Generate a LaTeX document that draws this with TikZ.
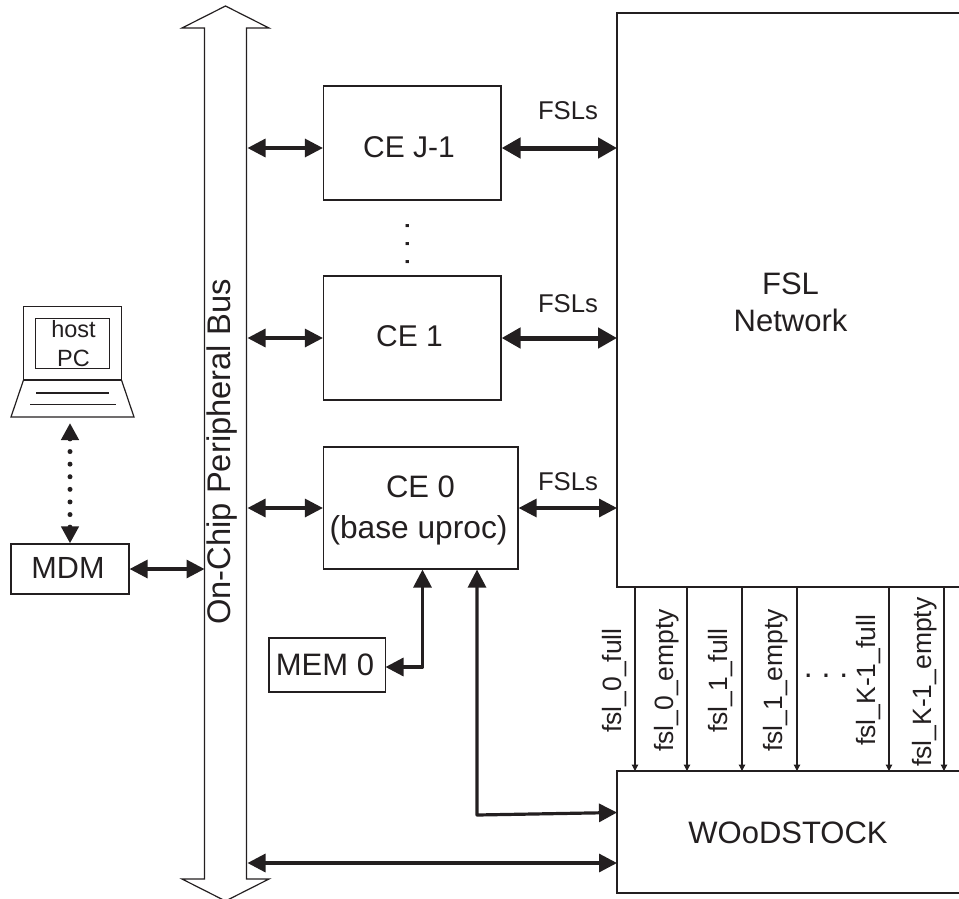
\documentclass[tikz,border=0pt]{standalone}
\usepackage{fontspec}
\setmainfont{Liberation Sans}
\usetikzlibrary{arrows.meta}
\definecolor{ink}{HTML}{231F20}
\newcommand{\fs}[1]{\fontsize{#1}{#1}\selectfont}
\tikzset{
  x=1pt,y=-1pt,
  every path/.style={color=ink},
  every node/.style={text=ink},
  box/.style={draw=ink,line width=1.2pt,inner sep=0pt,minimum width=#1},
  boxh/.style={minimum height=#1},
  lab/.style={inner sep=0pt,font=\fs{#1}},
  thinbi/.style={line width=3.2pt,{Triangle[length=18pt,width=18pt]}-{Triangle[length=18pt,width=18pt]}},
  thickbi/.style={line width=5pt,{Triangle[length=19pt,width=20pt]}-{Triangle[length=19pt,width=20pt]}},
  dotbi/.style={line width=5pt,line cap=round,dash pattern=on 0pt off 12.6pt,{Triangle[length=17pt,width=17pt,line cap=butt]}-{Triangle[length=17pt,width=17pt,line cap=butt]}},
  sig/.style={line width=1.2pt,-{Triangle[length=6.5pt,width=6.5pt]}},
  fsllab/.style={rotate=90,anchor=west,inner sep=0pt,font=\fs{26.5}},
  thin1/.style={draw=ink,line width=1.2pt}
}
\begin{document}
\begin{tikzpicture}
\useasboundingbox (0,0) rectangle (959,898);
% bus
\draw[thin1,line join=miter] (225.5,6) -- (269,28) -- (246.5,28) -- (246.5,879) -- (269,879) -- (225.5,901) -- (182,879) -- (204.5,879) -- (204.5,28) -- (182,28) -- cycle;
\coordinate (busR) at (246.5,0);
\coordinate (busL) at (204.5,0);
\node[rotate=90,lab=32.7] (buslab) at (222,452) {On-Chip Peripheral Bus};
% boxes
\node[box=177.5pt,boxh=114pt] (ceJ) at (412.25,143) {};
\node[box=177.5pt,boxh=124pt] (ce1) at (412.25,338) {};
\node[box=194.5pt,boxh=122pt] (ce0) at (420.75,508) {};
\node[box=116.5pt,boxh=54pt] (mem) at (327.25,665) {};
\node[box=118pt,boxh=50pt] (mdm) at (70,569) {};
\node[lab=30] (ceJt) at (409,147) {CE J-1};
\node[lab=30] (ce1t) at (409.5,336) {CE 1};
\node[lab=31] (ce0t) at (420.5,487) {CE 0};
\node[lab=31.7] (ce0u) at (418.5,530) {(base uproc)};
\node[lab=31] (memt) at (325,665) {MEM 0};
\node[lab=30.6] (mdmt) at (68,568) {MDM};
\path[thin1] (617,13) rectangle (970,587);
\path[thin1] (617,771) rectangle (970,893);
\coordinate (fslW) at (617,148);
\coordinate (woodW) at (617,812.5);
\coordinate (woodB) at (617,863);
\node[lab=31] (fsln) at (790.5,284) {FSL};
\node[lab=31] (fsln2) at (790.5,320) {Network};
\node[lab=31] (wood) at (788,833) {WOoDSTOCK};
% laptop
\draw[thin1] (23.5,380) -- (23.5,306.5) -- (121.5,306.5) -- (121.5,380) -- cycle;
\node[draw=ink,line width=1.2pt,minimum width=73.5pt,minimum height=49.5pt,inner sep=0pt] (screen) at (72.5,343.5) {};
\draw[thin1] (23.5,380) -- (11,417) -- (134,417) -- (121.5,380);
\draw[thin1] (36,393) -- (109,393);
\draw[thin1] (30,404.5) -- (116,404.5);
\coordinate (lapB) at (70,423);
\node[lab=23.5] (host) at (73.5,329) {host};
\node[lab=23.5] (pc) at (73.5,358) {PC};
% connectors
\coordinate (ceJw) at (ceJ.west |- fslW);
\coordinate (ceJe) at (ceJ.east |- fslW);
\coordinate (memE) at (385.5,667);
\coordinate (memK) at (422.5,667);
\coordinate (woodK) at (477,815);
\draw[thinbi] ([xshift=1pt]busR |- ceJw) -- (ceJw);
\draw[thinbi] ([xshift=1pt]busR |- ce1.west) -- (ce1.west);
\draw[thinbi] ([xshift=1pt]busR |- ce0.west) -- (ce0.west);
\draw[thinbi] (mdm.east) -- (busL |- mdm.east);
\draw[thickbi] (ceJe) -- (fslW);
\draw[thickbi] (ce1.east) -- (fslW |- ce1.east);
\draw[thinbi] (ce0.east) -- (fslW |- ce0.east);
\draw[dotbi] (lapB) -- (mdm.north);
\draw[thinbi,line join=round] (memE) -- (memK) -- (memK |- ce0.south);
\draw[thinbi,line join=round] (woodK |- ce0.south) -- (woodK) -- (woodW);
\draw[thinbi] ([xshift=1pt]busR |- woodB) -- (woodB);
% status lines
\foreach \n/\x in {a/635,b/687,c/742,d/797,e/889,f/944}{
  \coordinate (t\n) at (\x,587);
  \coordinate (h\n) at (\x,771);
  \draw[sig] (t\n) -- (h\n);
}
\node[fsllab] (l1) at (615,733) {fsl\_0\_full};
\node[fsllab] (l2) at (667,752) {fsl\_0\_empty};
\node[fsllab] (l3) at (721,733) {fsl\_1\_full};
\node[fsllab] (l4) at (776,752) {fsl\_1\_empty};
\node[fsllab] (l5) at (869,746) {fsl\_K-1\_full};
\node[fsllab] (l6) at (925,767) {fsl\_K-1\_empty};
\node[lab=32] (hd) at (826,676) {.\ .\ .};
\node[rotate=90,lab=32] (vd) at (408,244) {.\ .\ .};
\node[lab=25.7] (f1) at (568,111) {FSLs};
\node[lab=25.7] (f2) at (568,304) {FSLs};
\node[lab=25.7] (f3) at (568,482) {FSLs};
\end{tikzpicture}
\end{document}
